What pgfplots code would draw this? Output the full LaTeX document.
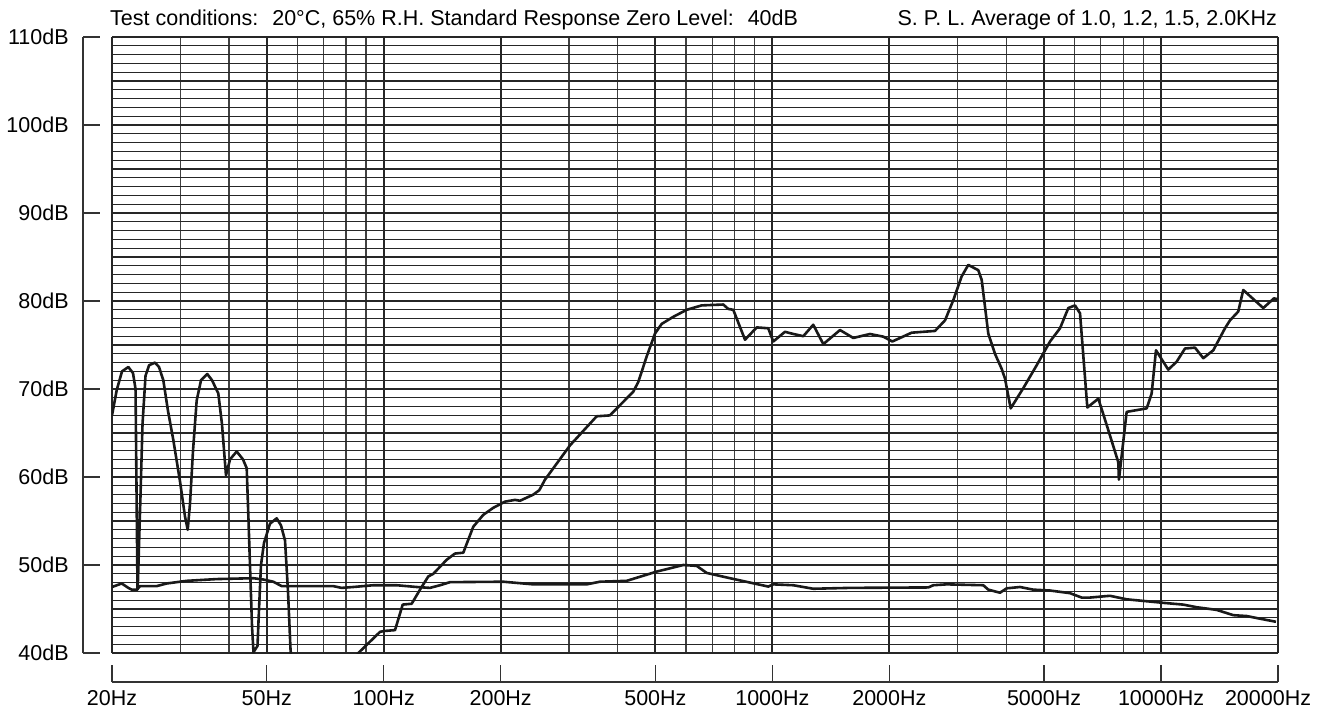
\documentclass[border=0pt]{standalone}
\usepackage{fontspec}
\setmainfont{Liberation Sans}
\usepackage{pgfplots}
\pgfplotsset{compat=1.18}
\begin{document}
\fontsize{21.5}{25}\selectfont
\begin{tikzpicture}[font=\fontsize{21.5}{25}\selectfont]
\begin{axis}[
  name=ax,
  at={(112pt,62pt)}, anchor=south west,
  width=1166pt, height=616pt, scale only axis,
  xmode=log, xmin=20, xmax=20000, ymin=40, ymax=110,
  axis x line=bottom, axis y line=left,
  axis x line shift=29pt, axis y line shift=29pt,
  axis line style={-, line width=1.3pt, black!80},
  xtick={20,50,100,200,500,1000,2000,5000,10000,20000},
  xticklabels={20Hz,50Hz,100Hz,200Hz,500Hz,1000Hz,2000Hz,5000Hz,10000Hz,\hspace*{-20pt}20000Hz},
  minor xtick={30,40,60,70,80,90,300,400,600,700,800,900,3000,4000,6000,7000,8000,9000},
  ytick={40,50,...,110},
  yticklabels={40dB,50dB,60dB,70dB,80dB,90dB,100dB,110dB},
  minor y tick num=9,
  grid=both,
  minor x grid style={line width=1.3pt, black!75},
  minor y grid style={line width=1.2pt, black!85},
  major x grid style={line width=1.9pt, black!85},
  major y grid style={line width=1.3pt, black!85},
  tick align=inside,
  major tick length=17pt, minor tick length=0pt,
  tick style={line width=1.3pt, black!80},
  yticklabel style={xshift=-7pt},
  xticklabel style={yshift=-6pt, inner sep=2pt},
]
% main response, part 1
\addplot[black!90, line width=2.6pt, line join=round] coordinates {
(20.00,67.0) (20.57,69.9) (21.22,72.0) (22.03,72.5) (22.65,71.8) (22.99,70.0)
(23.26,47.2) (23.29,47.3) (23.68,58.0) (23.96,66.0) (24.39,71.5) (24.91,72.7)
(25.80,73.0) (26.42,72.5) (27.10,71.0) (27.87,67.5) (28.76,64.2) (29.92,59.5)
(30.82,55.5) (31.32,54.0) (31.75,57.0) (32.32,63.0) (33.03,68.7) (33.89,71.0)
(35.17,71.7) (36.17,71.0) (37.54,69.5) (38.37,66.0) (39.29,60.2) (40.24,62.0)
(41.86,62.9) (43.45,62.0) (44.42,61.0) (44.90,55.0) (45.84,43.0) (46.24,40.1)
(47.35,40.8) (47.78,45.0) (48.34,50.0) (49.21,52.5) (50.99,54.7) (53.05,55.3)
(54.42,54.5) (55.73,52.8) (56.73,47.0) (57.57,40.5) (58.26,37.5)
};
% main response, part 2
\addplot[black!90, line width=2.6pt, line join=round] coordinates {
(84.87,39.6) (86.05,40.0) (97.84,42.4) (100.19,42.5) (106.94,42.6) (111.92,45.5)
(118.04,45.6) (124.01,47.2) (130.25,48.7) (134.17,49.0) (145.26,50.6) (152.56,51.3)
(160.27,51.4) (163.51,52.4) (170.04,54.35) (180.41,55.7) (191.44,56.5) (205.18,57.2)
(217.68,57.4) (224.24,57.3) (242.62,58.0) (251.37,58.5) (260.03,59.7) (301.62,63.6)
(353.2,66.9) (382.1,67.0) (438.7,69.7) (451.9,70.8) (474.9,73.7) (498.9,76.3)
(519.1,77.4) (555.9,78.2) (602.0,79.0) (657.8,79.5) (747.7,79.6) (770.0,79.1)
(793.3,79.0) (850.4,75.6) (911.4,77.0) (976.0,76.9) (1005.4,75.4) (1077.5,76.5)
(1121.1,76.3) (1201.0,76.0) (1274.1,77.3) (1352.2,75.1) (1492.9,76.7) (1614.8,75.8)
(1783.0,76.25) (1929,75.95) (2034.9,75.4) (2282.6,76.4) (2620.9,76.6) (2780.9,77.8)
(2920.9,80.1) (3069.2,82.8) (3191.8,84.1) (3386.4,83.5) (3455.8,82.4) (3593.6,76.3)
(3739,74.0) (3890,72.3) (3967,71.2) (4103.4,67.8) (4422,70.1) (4786.6,72.7)
(5180.4,75.4) (5496,76.9) (5773.6,79.2) (6006.8,79.5) (6187.8,78.6) (6461.4,67.9)
(6897,68.9) (7248.6,65.9) (7761,61.7) (7793.4,59.7) (8156.4,67.4) (9184,67.8)
(9458.8,69.5) (9704,74.4) (10436,72.2) (10968,73.1) (11522,74.6) (12226,74.7)
(12844,73.5) (13626,74.4) (14604,76.9) (15044,77.8) (15798,78.8) (16274,81.25)
(18324,79.2) (19522,80.3) (20000,80.2)
};
% lower curve
\addplot[black!90, line width=2.6pt, line join=round] coordinates {
(20.00,47.5) (21.18,47.9) (22.03,47.4) (22.48,47.2) (23.15,47.2) (23.61,47.6)
(26.06,47.6) (27.65,47.9) (31.13,48.2) (37.19,48.4) (46.19,48.5) (49.01,48.35)
(52.00,48.1) (54.65,47.6) (74.20,47.6) (77.98,47.4) (83.53,47.5) (94.00,47.7)
(108.02,47.7) (121.60,47.5) (131.55,47.4) (139.61,47.7) (148.12,48.05) (203.1,48.1)
(242.62,47.8) (332.8,47.8) (360.1,48.1) (422.0,48.2) (503.9,49.25) (590.0,50.0)
(638.6,49.9) (677.6,49.1) (778.0,48.5) (976.0,47.55) (1005.4,47.8) (1132.0,47.7)
(1274.1,47.3) (1583.4,47.4) (2518.6,47.45) (2594,47.7) (2808,47.8) (3488.6,47.7)
(3593.6,47.2) (3851,46.85) (4007.6,47.35) (4335.4,47.5) (4690.6,47.2) (5180.4,47.1)
(5830,46.8) (6248,46.3) (6564,46.3) (7388,46.5) (8156.4,46.1) (10134,45.7)
(11406,45.5) (12350,45.2) (13900,44.9) (15336,44.3) (16608,44.2) (17968,43.9)
(19752,43.55)
};
\end{axis}
\node[anchor=base west, inner sep=0pt] at ([xshift=-2pt,yshift=11pt]ax.north west)
  {Test conditions:\hspace{0.65em}20°C, 65\% R.H. Standard Response Zero Level:\hspace{0.65em}40dB};
\node[anchor=base east, inner sep=0pt] at ([xshift=-1pt,yshift=11pt]ax.north east)
  {S. P. L. Average of 1.0, 1.2, 1.5, 2.0KHz};
\pgfresetboundingbox
\path[use as bounding box] (0,0) rectangle (1327pt,715pt);
\end{tikzpicture}
\end{document}
